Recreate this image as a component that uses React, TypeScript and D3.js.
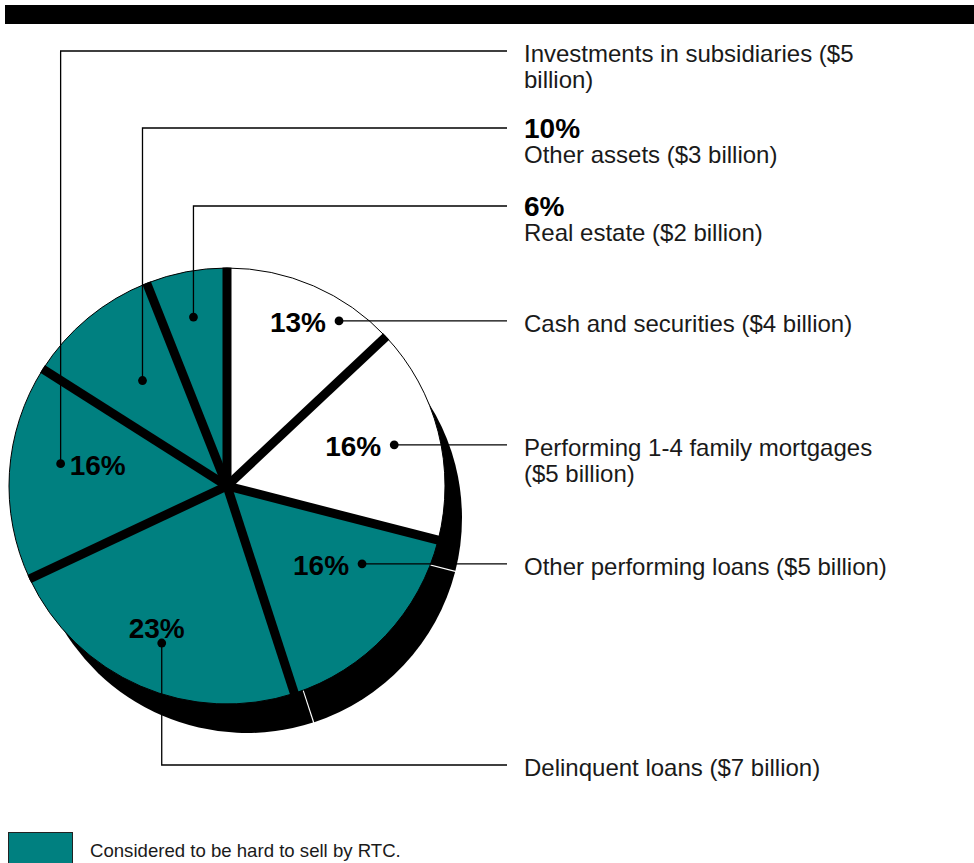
import React from "react";
import * as d3 from "d3";

// ---- data ----
const categories = [
  "Cash and securities",
  "Performing 1-4 family mortgages",
  "Other performing loans",
  "Delinquent loans",
  "Investments in subsidiaries",
  "Other assets",
  "Real estate",
];
const billions = [4, 5, 5, 7, 5, 3, 2];
const percents = [13, 16, 16, 23, 16, 10, 6];
const hardToSell = [false, false, true, true, true, true, true];
const showPctInPie = [true, true, true, true, true, false, false];
const showPctInLabel = [false, false, false, false, false, true, true];
const labelLines = [
  ["Cash and securities ($4 billion)"],
  ["Performing 1-4 family mortgages", "($5 billion)"],
  ["Other performing loans ($5 billion)"],
  ["Delinquent loans ($7 billion)"],
  ["Investments in subsidiaries ($5", "billion)"],
  ["Other assets ($3 billion)"],
  ["Real estate ($2 billion)"],
];
const legendText = "Considered to be hard to sell by RTC.";

// ---- layout ----
const W = 974;
const H = 863;
const cx = 227;
const cy = 486;
const R = 218;
const shadowCx = 247;
const shadowCy = 518;
const shadowR = 215;
const TEAL = "#008080";
const textX = 524;
const leaderEndX = 507;
const gapWidth = 9;
// anchor inside slice: fraction of angular span, fraction of radius
const anchorT = [0.73, 0.51, 0.27, 0.49, 0.57, 0.525, 0.48];
const anchorF = [0.915, 0.79, 0.715, 0.78, 0.77, 0.62, 0.79];
// leader routing and callout rows
const route = ["h", "h", "h", "down", "up", "up", "up"];
const calloutY = [0, 0, 0, 765, 51, 128, 206];
const pctPlacement = ["left", "left", "left", "above", "right", "none", "none"];

export default function App() {
  const pie = d3
    .pie<number>()
    .sort(null)
    .value((d) => d)
    .startAngle(0)
    .endAngle(2 * Math.PI);
  const arcs = pie(percents);
  const arc = d3
    .arc<d3.PieArcDatum<number>>()
    .innerRadius(0)
    .outerRadius(R);

  const shadowPie = d3
    .pie<number>()
    .sort(null)
    .value((d) => d)
    .padAngle(1.3 / shadowR);
  const shadowArcs = shadowPie(percents);
  const shadowArc = d3
    .arc<d3.PieArcDatum<number>>()
    .innerRadius(0)
    .outerRadius(shadowR)
    .padRadius(shadowR);

  const anchors = arcs.map((a, i) => {
    const th = a.startAngle + anchorT[i] * (a.endAngle - a.startAngle);
    const rr = anchorF[i] * R;
    return [cx + rr * Math.sin(th), cy - rr * Math.cos(th)];
  });

  const font = "'Liberation Sans', Arial, Helvetica, sans-serif";

  return (
    <svg
      width={W}
      height={H}
      viewBox={`0 0 ${W} ${H}`}
      style={{ position: "absolute", left: 0, top: 0, background: "#fff" }}
      fontFamily={font}
    >
      <defs>
        <clipPath id="pieClip">
          <circle cx={0} cy={0} r={R + 0.5} />
        </clipPath>
      </defs>
      <rect x={5} y={5} width={969} height={19} fill="#000" />

      {/* 3D body / shadow */}
      <g transform={`translate(${shadowCx},${shadowCy})`}>
        {shadowArcs.map((a, i) => (
          <path key={"s" + i} d={shadowArc(a) || ""} fill="#000" />
        ))}
      </g>
      {/* slices */}
      <g transform={`translate(${cx},${cy})`}>
        {arcs.map((a, i) => (
          <path
            key={"p" + i}
            d={arc(a) || ""}
            fill={hardToSell[i] ? TEAL : "#fff"}
            stroke="#000"
            strokeWidth={1}
          />
        ))}
        <g clipPath="url(#pieClip)">
          {arcs.map((a, i) => (
            <line
              key={"sep" + i}
              x1={0}
              y1={0}
              x2={(R + 4) * Math.sin(a.startAngle)}
              y2={-(R + 4) * Math.cos(a.startAngle)}
              stroke="#000"
              strokeWidth={gapWidth}
            />
          ))}
          <circle cx={0} cy={0} r={6} fill="#000" />
        </g>
      </g>

      {/* leaders */}
      {anchors.map(([x, y], i) => {
        let pts: [number, number][];
        let ly: number;
        if (route[i] === "h") {
          ly = y;
          pts = [
            [x, y],
            [leaderEndX, y],
          ];
        } else {
          ly = calloutY[i];
          pts = [
            [x, y],
            [x, ly],
            [leaderEndX, ly],
          ];
        }
        const line = d3.line()(pts) || "";
        return (
          <g key={"l" + i}>
            <path d={line} fill="none" stroke="#000" strokeWidth={1.3} />
            <circle cx={x} cy={y} r={4.4} fill="#000" />
          </g>
        );
      })}

      {/* percent labels inside pie */}
      {anchors.map(([x, y], i) => {
        if (!showPctInPie[i]) return null;
        const p = pctPlacement[i];
        let tx = x,
          ty = y,
          anchor = "end";
        if (p === "left") {
          tx = x - 13;
          ty = y + 11;
          anchor = "end";
        } else if (p === "above") {
          tx = x - 5;
          ty = y - 5;
          anchor = "middle";
        } else if (p === "right") {
          tx = x + 9;
          ty = y + 11;
          anchor = "start";
        }
        return (
          <text
            key={"pct" + i}
            x={tx}
            y={ty}
            textAnchor={anchor}
            fontSize={28}
            fontWeight="bold"
            fill="#000"
          >
            {percents[i]}%
          </text>
        );
      })}

      {/* right-hand labels */}
      {anchors.map(([, y], i) => {
        const ly = route[i] === "h" ? y : calloutY[i];
        const hasBold = showPctInLabel[i];
        const first = hasBold ? ly + 10 : ly + 11;
        return (
          <g key={"t" + i}>
            {hasBold && (
              <text x={textX} y={first} fontSize={28} fontWeight="bold" fill="#000">
                {percents[i]}%
              </text>
            )}
            {labelLines[i].map((s, j) => (
              <text
                key={j}
                x={textX}
                y={(hasBold ? first + 25 : first) + j * 26}
                fontSize={24}
                fill="#1a1a1a"
              >
                {s}
              </text>
            ))}
          </g>
        );
      })}

      {/* legend */}
      <rect x={8.5} y={832.5} width={64} height={34} fill={TEAL} stroke="#222" strokeWidth={1} />
      <text x={90} y={857} fontSize={18.6} fill="#1a1a1a">
        {legendText}
      </text>
    </svg>
  );
}
